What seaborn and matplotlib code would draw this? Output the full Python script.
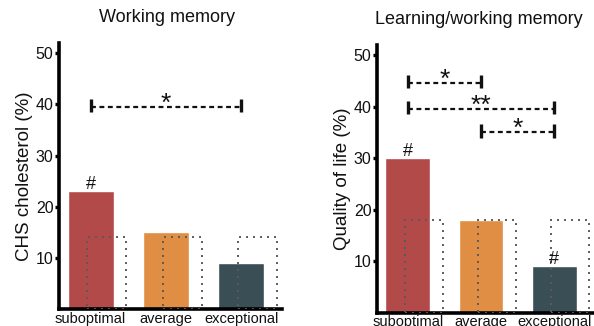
import matplotlib
matplotlib.use("Agg")
import matplotlib.pyplot as plt
import seaborn as sns
import pandas as pd

# Groups and values
categories = ["suboptimal", "average", "exceptional"]
colors = ["#B34A4A", "#DF8E43", "#3A4E55"]

wm_values = [23, 15, 9]          # CHS cholesterol (%)
wm_reference = [14, 14, 14]      # dotted reference level
wm_hash = [True, False, False]
wm_sig = [(0, 2, 39.5, "*")]

lwm_values = [30, 18, 9]         # Quality of life (%)
lwm_reference = [18, 18, 18]
lwm_hash = [True, False, True]
lwm_sig = [(0, 1, 44.6, "*"), (0, 2, 39.5, "**"), (1, 2, 35.0, "*")]

yticks = [10, 20, 30, 40, 50]

sns.set_theme(style="white")
plt.rcParams["font.family"] = ["Liberation Sans", "DejaVu Sans"]

fig = plt.figure(figsize=(5.94, 3.26), dpi=100)
ax1 = fig.add_axes([0.0993, 0.052, 0.3754, 0.816])
ax2 = fig.add_axes([0.6347, 0.0414, 0.3653, 0.821])


def draw_panel(ax, values, reference, hashes, sigs, title, ylabel, title_x):
    df = pd.DataFrame({"group": categories, "value": values})
    sns.barplot(data=df, x="group", y="value", hue="group", palette=colors,
                legend=False, width=0.61, saturation=1, ax=ax)
    # dotted reference outlines, shifted right of each bar
    xs = [i + 0.215 for i in range(len(categories))]
    ax.bar(xs, reference, width=0.52, fill=False, edgecolor="#5a5a5a",
           linewidth=1.4, linestyle=(0, (1, 2.6)), zorder=3)
    for i, (v, h) in enumerate(zip(values, hashes)):
        if h:
            ax.text(i, v + 0.45, "#", ha="center", va="baseline", fontsize=13,
                    color="#111111")
    for a, b, y, label in sigs:
        ax.plot([a, b], [y, y], color="#111111", lw=1.6,
                linestyle=(0, (2.2, 1.6)), solid_capstyle="butt", zorder=4)
        for xe in (a, b):
            ax.plot([xe, xe], [y - 1.0, y + 1.6], color="#111111", lw=2.4,
                    solid_capstyle="butt", zorder=4)
        ax.text((a + b) / 2, y - 0.7, label, ha="center", va="baseline",
                fontsize=19, color="#111111")
    ax.set_xlim(-0.42, 2.54)
    ax.set_ylim(0, 52)
    ax.set_yticks(yticks)
    ax.set_xlabel("")
    ax.set_ylabel(ylabel, fontsize=13.5, labelpad=2, color="#111111")
    ax.set_title(title, fontsize=13, pad=15, x=title_x, color="#111111")
    sns.despine(ax=ax)
    for side in ("left", "bottom"):
        ax.spines[side].set_linewidth(2.6)
        ax.spines[side].set_color("black")
    ax.tick_params(axis="y", left=True, length=3, width=2.4, pad=1,
                   labelsize=11.5, color="black", labelcolor="#111111")
    ax.tick_params(axis="x", bottom=False, length=0, pad=2, labelsize=10.5,
                   labelcolor="#111111")


draw_panel(ax1, wm_values, wm_reference, wm_hash, wm_sig,
           "Working memory", "CHS cholesterol (%)", 0.484)
draw_panel(ax2, lwm_values, lwm_reference, lwm_hash, lwm_sig,
           "Learning/working memory", "Quality of life (%)", 0.47)

fig.savefig("out.png", dpi=100)
